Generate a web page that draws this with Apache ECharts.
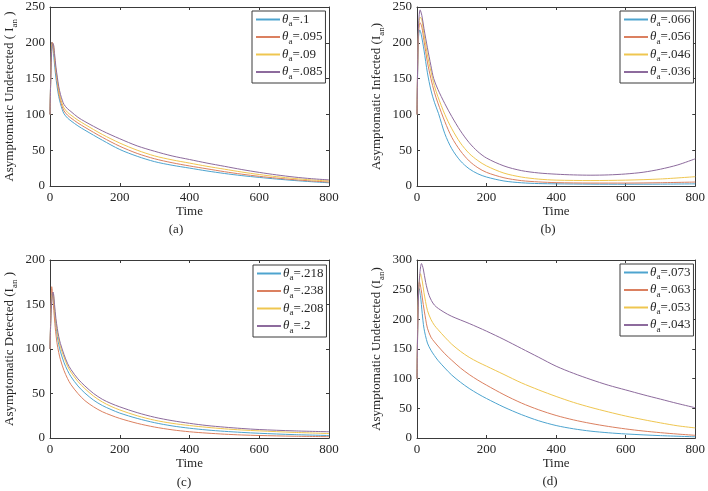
<!DOCTYPE html>
<html>
<head>
<meta charset="utf-8">
<script src="https://cdn.jsdelivr.net/npm/echarts@6/dist/echarts.min.js"></script>
<style>html,body{margin:0;padding:0;background:#fff}#c{width:708px;height:491px}</style>
</head>
<body>
<div id="c"></div>
<script>
// ---------- data ----------
const xTicks = [0, 200, 400, 600, 800];
const yTicksA = [0, 50, 100, 150, 200, 250];
const yTicksB = [0, 50, 100, 150, 200, 250];
const yTicksC = [0, 50, 100, 150, 200];
const yTicksD = [0, 50, 100, 150, 200, 250, 300];

// (a) Asymptomatic Undetected
const namesA = ['.1', '.095', '.09', '.085'];
const a1 = [[0,100],[3,175],[5,201],[8,195],[12,175],[16,155],[20,140],[25,125],[30,115],[35,107],[40,101],[50,95],[60,91],[80,84],[100,78],[150,64],[200,51],[250,41.5],[300,34],[350,29],[400,25],[450,21],[500,17.5],[550,14.5],[600,12],[650,9.7],[700,7.7],[750,6],[800,4.5]];
const a2 = [[0,100],[3,170],[6,201],[9,197],[13,178],[17,159],[21,144],[25,130],[30,119],[35,111],[40,105],[50,99],[60,95],[80,88],[100,82],[150,68],[200,55.5],[250,45.5],[300,38],[350,32.5],[400,28],[450,24],[500,20],[550,16.5],[600,13.5],[650,11],[700,8.8],[750,7],[800,5.5]];
const a3 = [[0,100],[3,168],[6,198],[9,198],[13,181],[17,162],[21,148],[25,134],[30,123],[35,115],[40,109],[50,103],[60,99],[80,92],[100,86],[150,72],[200,60],[250,50],[300,42],[350,36.5],[400,32],[450,27.5],[500,23.5],[550,19.5],[600,16],[650,13],[700,10.5],[750,8.5],[800,7]];
const a4 = [[0,100],[3,165],[6,195],[9,199],[13,185],[17,166],[21,152],[25,139],[30,128],[35,120],[40,114],[50,108],[60,104],[80,96],[100,90],[150,77],[200,66],[250,56],[300,48.5],[350,42],[400,37],[450,32],[500,27.5],[550,23],[600,19],[650,15.5],[700,12.5],[750,10.2],[800,8.5]];

// (b) Asymptomatic Infected
const namesB = ['.066', '.056', '.046', '.036'];
const b1 = [[0,100],[4,205],[8,218],[12,212],[20,190],[30,158],[40,134],[50,117],[62,101],[80,73],[100,52],[125,35],[150,24],[175,17],[200,12.5],[250,7],[300,4.5],[350,3.4],[400,3],[500,2.6],[600,2.5],[700,2.6],[800,3]];
const b2 = [[0,100],[4,210],[9,228],[14,222],[20,203],[30,173],[40,150],[50,131],[60,116],[80,90],[100,68],[125,49],[150,35],[175,25.5],[200,19],[250,11.5],[300,7.5],[350,5.7],[400,4.7],[500,4.1],[600,4.1],[700,4.6],[800,5.5]];
const b3 = [[0,100],[4,215],[9,236],[14,232],[20,212],[30,183],[40,160],[50,140],[60,125],[80,100],[100,80],[125,60],[150,45.5],[175,35.5],[200,28],[250,18],[300,12.5],[350,9.6],[400,8.2],[500,7.6],[600,8.2],[700,9.8],[800,13]];
const b4 = [[0,100],[4,220],[9,246],[14,238],[20,220],[30,193],[40,168],[48,150],[60,135],[80,115],[100,97],[125,77],[150,60.5],[175,48],[200,39],[250,28],[300,21.5],[350,18.2],[400,16.5],[450,15.5],[500,15.1],[550,15.5],[600,16.8],[650,19.2],[700,23.5],[750,29.5],[800,38]];

// (c) Asymptomatic Detected
const namesC = ['.218', '.238', '.208', '.2'];
const c1 = [[0,100],[3,145],[6,163],[9,160],[13,142],[17,126],[21,114],[25,105],[30,97],[40,85],[50,76],[60,69],[80,58.5],[100,50.5],[125,42.5],[150,36.5],[175,32],[200,28],[250,22],[300,17.2],[350,13.6],[400,11],[450,9],[500,7.5],[550,6.3],[600,5.3],[700,3.8],[800,2.8]];
const c2 = [[0,100],[3,150],[5,170],[8,160],[12,138],[16,120],[20,107],[25,96],[30,88],[40,76],[50,67],[60,60],[80,50],[100,42],[125,35],[150,29.5],[175,25.5],[200,22],[250,16.5],[300,12.3],[350,9.2],[400,7],[450,5.5],[500,4.3],[550,3.4],[600,2.8],[700,2],[800,1.5]];
const c3 = [[0,100],[3,142],[6,160],[9,162],[13,146],[17,130],[21,119],[25,110],[30,102],[40,91],[50,81],[60,74],[80,63.5],[100,55.5],[125,47],[150,40.5],[175,35.5],[200,31.5],[250,25],[300,20],[350,16.5],[400,14],[450,12],[500,10.3],[550,9],[600,8],[700,6.3],[800,5]];
const c4 = [[0,100],[3,140],[6,157],[9,164],[13,150],[17,134],[21,123],[25,114],[30,106],[40,94],[50,84],[60,77],[80,66.5],[100,58.5],[125,50],[150,43.5],[175,38.8],[200,35],[250,28.5],[300,23.3],[350,19.5],[400,16.5],[450,14],[500,12.2],[550,10.7],[600,9.5],[700,8],[800,7]];

// (d) Asymptomatic Undetected
const namesD = ['.073', '.063', '.053', '.043'];
const d1 = [[0,100],[3,220],[6,252],[10,240],[15,210],[20,185],[30,160],[40,148],[50,139],[60,131],[80,118],[100,106],[125,94],[150,83.5],[175,74.5],[200,66.5],[250,52],[300,39.5],[350,29],[400,21],[450,15.5],[500,11.5],[550,8.8],[600,6.8],[700,4],[800,2]];
const d2 = [[0,100],[3,225],[7,263],[12,250],[18,225],[25,200],[30,185],[40,170],[50,162],[60,155],[80,142],[100,131],[125,118],[150,107],[175,97.5],[200,89],[250,73],[300,59],[350,47.5],[400,38],[450,30.5],[500,24.5],[550,19.5],[600,15.3],[650,11.8],[700,9],[750,6.6],[800,4.5]];
const d3 = [[0,100],[4,235],[10,277],[15,265],[20,245],[30,215],[40,200],[50,190],[60,183],[80,170],[100,158],[125,146],[150,136],[175,128],[200,121],[250,107],[300,93],[350,81],[400,70],[450,60],[500,51.5],[550,44],[600,37],[650,31],[700,25.5],[750,20.5],[800,17]];
const d4 = [[0,100],[5,250],[13,294],[18,285],[25,262],[35,240],[50,224],[75,213],[100,205],[150,193],[200,180],[250,166],[300,151],[350,136],[400,121],[450,109],[500,98.5],[550,89],[600,81],[650,73],[700,65.5],[750,58],[800,51]];

// ---------- layout / style ----------
const FONT = 'Liberation Serif';
const TXT = '#262626';
const AX = '#3a3a3a';
const COLORS = ['#4ea4cf', '#db8060', '#efc650', '#8d6b9d'];

const panels = [
  {grid:{left:50, top:7, width:279, height:179}, yTicks:yTicksA, yName:['Asymptomatic Undetected ( I','an',' )'],
   names:namesA, data:[a1,a2,a3,a4], legend:{left:252, top:11}, cap:['(a)',176,230]},
  {grid:{left:417, top:7, width:280, height:179}, yTicks:yTicksB, yName:['Asymptomatic Infected (I','an',')'],
   names:namesB, data:[b1,b2,b3,b4], legend:{left:620, top:11}, cap:['(b)',548,230]},
  {grid:{left:50, top:260, width:279, height:178}, yTicks:yTicksC, yName:['Asymptomatic Detected (I','an',' )'],
   names:namesC, data:[c1,c2,c3,c4], legend:{left:253, top:265}, cap:['(c)',184,483]},
  {grid:{left:417, top:260, width:280, height:178}, yTicks:yTicksD, yName:['Asymptomatic Undetected (I','an',')'],
   names:namesD, data:[d1,d2,d3,d4], legend:{left:620, top:264}, cap:['(d)',550,482]}
];

const richText = {
  n: {fontFamily: FONT, fontSize: 13, color: TXT, lineHeight: 18, verticalAlign: 'middle'},
  t: {fontFamily: FONT, fontSize: 13, color: TXT, fontStyle: 'italic', lineHeight: 18, verticalAlign: 'middle'},
  s: {fontFamily: FONT, fontSize: 9, color: TXT, lineHeight: 10, verticalAlign: 'bottom'}
};

const grid = [], xAxis = [], yAxis = [], series = [], legend = [], graphic = [];
panels.forEach((p, i) => {
  grid.push(Object.assign({containLabel: false}, p.grid));
  const xmin = xTicks[0], xmax = xTicks[xTicks.length - 1], xint = xTicks[1] - xTicks[0];
  const ymin = p.yTicks[0], ymax = p.yTicks[p.yTicks.length - 1], yint = p.yTicks[1] - p.yTicks[0];
  const line = {show: true, onZero: false, lineStyle: {color: AX, width: 1}};
  const tick = {show: true, inside: true, length: 3, lineStyle: {color: AX, width: 1}};
  xAxis.push({
    type: 'value', gridIndex: i, min: xmin, max: xmax, interval: xint, position: 'bottom',
    axisLine: line, axisTick: tick, splitLine: {show: false},
    axisLabel: {color: TXT, fontFamily: FONT, fontSize: 13, margin: 5},
    name: 'Time', nameLocation: 'middle', nameGap: 17,
    nameTextStyle: {color: TXT, fontFamily: FONT, fontSize: 13}
  });
  xAxis.push({
    type: 'value', gridIndex: i, min: xmin, max: xmax, interval: xint, position: 'top',
    axisLine: line, axisTick: tick, splitLine: {show: false}, axisLabel: {show: false}
  });
  yAxis.push({
    type: 'value', gridIndex: i, min: ymin, max: ymax, interval: yint, position: 'left',
    axisLine: line, axisTick: tick, splitLine: {show: false},
    axisLabel: {color: TXT, fontFamily: FONT, fontSize: 13, margin: 5},
    name: '{n|' + p.yName[0] + '}{s|' + p.yName[1] + '}{n|' + p.yName[2] + '}',
    nameLocation: 'middle', nameGap: 31,
    nameTextStyle: {rich: richText}
  });
  yAxis.push({
    type: 'value', gridIndex: i, min: ymin, max: ymax, interval: yint, position: 'right',
    axisLine: line, axisTick: tick, splitLine: {show: false}, axisLabel: {show: false}
  });
  p.names.forEach((nm, k) => {
    series.push({
      type: 'line', name: nm, xAxisIndex: 2 * i, yAxisIndex: 2 * i,
      data: p.data[k], showSymbol: false, symbol: 'none', smooth: 0.3,
      lineStyle: {color: COLORS[k], width: 1}, itemStyle: {color: COLORS[k]},
      z: 2 + k
    });
  });
  legend.push({
    data: p.names.map((nm, k) => ({name: nm, icon: 'rect', itemStyle: {color: COLORS[k], borderWidth: 0}})),
    orient: 'vertical', left: p.legend.left, top: p.legend.top,
    backgroundColor: '#fff', borderColor: AX, borderWidth: 1, padding: [2, 3, 2, 4],
    itemGap: 2, itemWidth: 24, itemHeight: 2, selectedMode: false,
    formatter: name => '{t|θ}{s|a}{n|=' + name + '}',
    textStyle: {rich: richText, padding: [0, 0, 0, -3]}
  });
  graphic.push({
    type: 'text', x: p.cap[1], y: p.cap[2],
    style: {text: p.cap[0], fill: TXT, font: '13px "' + FONT + '"', textAlign: 'center', textVerticalAlign: 'middle'}
  });
});

const chart = echarts.init(document.getElementById('c'), null, {renderer: 'canvas'});
chart.setOption({animation: false, backgroundColor: '#fff', grid, xAxis, yAxis, series, legend, graphic});
</script>
</body>
</html>
